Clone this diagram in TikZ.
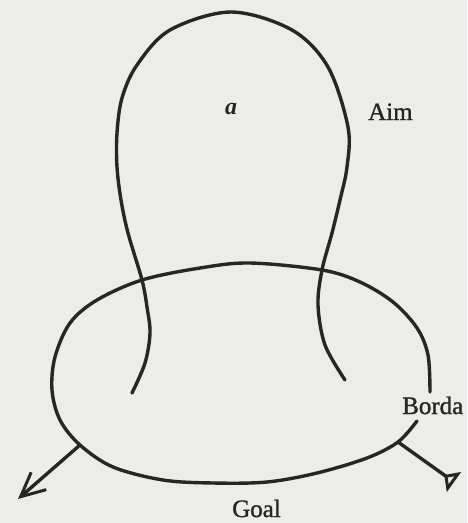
\documentclass[tikz,border=0pt]{standalone}
\usepackage{fontspec}
\setmainfont{Liberation Serif}
\newfontfamily\lblfont[FakeBold=1.2]{Liberation Serif}
\usetikzlibrary{arrows.meta}
\definecolor{bgcol}{RGB}{236,236,233}
\definecolor{inkcol}{RGB}{38,38,38}
\begin{document}
\begin{tikzpicture}[x=1pt,y=-1pt,
  curve/.style={draw=inkcol,line width=3.4pt,line cap=round,line join=round},
  lbl/.style={inner sep=0pt,anchor=base west,text=inkcol,font=\lblfont\fontsize{25}{30}\selectfont}]
\fill[bgcol] (0,0) rectangle (467,523);
\useasboundingbox (0,0) rectangle (467,523);
% Aim curve
\draw[curve] plot[smooth,tension=0.55] coordinates {
 (132,393) (145,363) (150,333) (147,307) (142,280) (128,233) (121,200)
 (117,167) (117,133) (122,98) (137,65) (170,30) (231,12) (292,30)
 (328,67) (348,127) (347,167) (340,200) (332,233) (322,270) (318,305)
 (325,345) (345,380)};
% Goal ellipse (open at Borda)
\draw[curve] plot[smooth,tension=0.55] coordinates {
 (417,421) (398,442) (367,458) (317,473) (267,482) (213,483) (163,480)
 (113,467) (80,445) (60,420) (52,390) (55,357) (70,323) (97,300)
 (142,280) (200,268) (250,263) (322,270) (360,282) (393,302) (417,328)
 (428,355) (430,392)};
\coordinate (gl) at (80,445);
\coordinate (gtip) at (18,499);
\coordinate (br) at (398,442);
\coordinate (bend) at (454,482);
\draw[curve,line cap=butt,-{Straight Barb[length=24pt,width=23pt,line width=3pt]}] (gl) -- (gtip);
\draw[curve,line cap=butt,-{Triangle[open,reversed,length=12pt,width=24pt,line width=3pt]}] (br) -- (bend);
% labels
\node[lbl,font=\fontsize{24}{28}\selectfont\bfseries\itshape,anchor=center] (a) at (231,109) {a};
\node[lbl] (aim) at (368,120) {Aim};
\node[lbl] (borda) at (402,414) {Borda};
\node[lbl] (goal) at (232,517) {Goal};
\end{tikzpicture}
\end{document}
